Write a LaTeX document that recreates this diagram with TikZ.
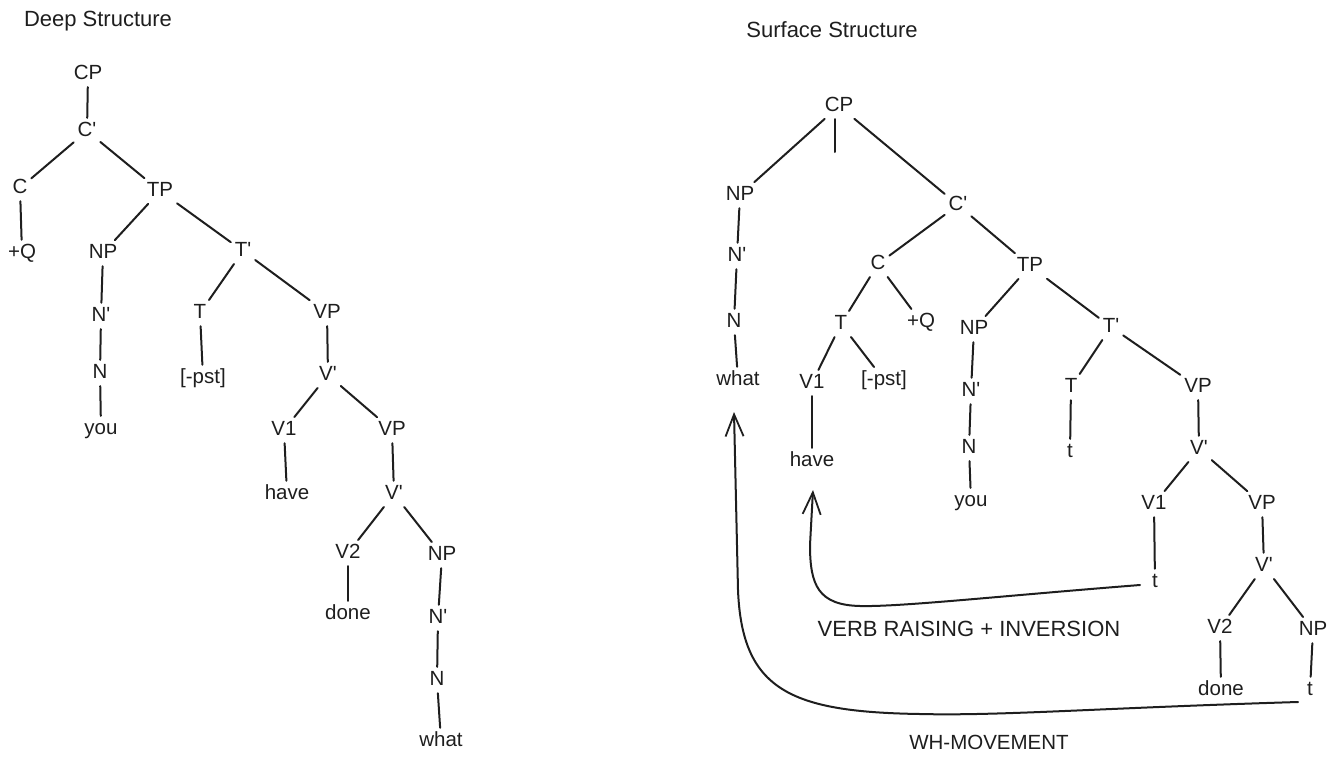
\documentclass[tikz,border=0pt]{standalone}
\usepackage{fontspec}
\setmainfont{Liberation Sans}
\usetikzlibrary{arrows.meta}
\definecolor{ink}{HTML}{1E1E1E}
\begin{document}
\begin{tikzpicture}[x=1pt,y=-1pt,
  lbl/.style={inner sep=3pt, text height=14pt, text depth=4pt, text=ink, font=\fontsize{20.5}{23}\selectfont},
  ttl/.style={inner sep=0pt, text=ink, font=\fontsize{22}{24}\selectfont},
  edge/.style={line width=2pt, draw=ink, line cap=round, shorten <=1pt, shorten >=1pt},
  move/.style={line width=2pt, draw=ink, line cap=round, -{Straight Barb[length=22pt,width=18pt,line width=1.8pt]}}]
\useasboundingbox (0,0) rectangle (1336,766);
\newcommand{\pr}{\textquotesingle}
% ---------- Deep Structure ----------
\node[ttl] (t1) at (98,21) {Deep Structure};
\node[lbl] (lCP) at (88,74) {CP};
\node[lbl] (lC1) at (87,131) {C\pr};
\node[lbl] (lC) at (20,188) {C};
\node[lbl] (lTP) at (160,191) {TP};
\node[lbl] (lQ) at (22,253) {+Q};
\node[lbl] (lNP) at (103,253) {NP};
\node[lbl] (lT1) at (243,251) {T\pr};
\node[lbl] (lN1) at (101,316) {N\pr};
\node[lbl] (lT) at (200,313) {T};
\node[lbl] (lVP) at (327,313) {VP};
\node[lbl] (lN) at (100,373) {N};
\node[lbl] (lpst) at (203,378) {[-pst]};
\node[lbl] (lV1bar) at (328,375) {V\pr};
\node[lbl] (lyou) at (101,429) {you};
\node[lbl] (lV1) at (284,430) {V1};
\node[lbl] (lVP2) at (392,430) {VP};
\node[lbl] (lhave) at (287,494) {have};
\node[lbl] (lV2bar) at (394,494) {V\pr};
\node[lbl] (lV2) at (348,553) {V2};
\node[lbl] (lNP2) at (442,555) {NP};
\node[lbl] (ldone) at (348,614) {done};
\node[lbl] (lN2bar) at (438,618) {N\pr};
\node[lbl] (lN2) at (437,680) {N};
\node[lbl] (lwhat) at (441,741) {what};
\foreach \a/\b in {lCP/lC1, lC1/lC, lC1/lTP, lC/lQ, lTP/lNP, lTP/lT1, lNP/lN1, lN1/lN, lN/lyou,
  lT1/lT, lT1/lVP, lT/lpst, lVP/lV1bar, lV1bar/lV1, lV1bar/lVP2, lV1/lhave, lVP2/lV2bar,
  lV2bar/lV2, lV2bar/lNP2, lV2/ldone, lNP2/lN2bar, lN2bar/lN2, lN2/lwhat}
  \draw[edge] (\a) -- (\b);
% ---------- Surface Structure ----------
\node[ttl] (t2) at (832,30) {Surface Structure};
\node[lbl] (rCP) at (839,106) {CP};
\coordinate (stub) at (835,153);
\node[lbl] (rNP) at (740,195) {NP};
\node[lbl] (rN1) at (737,256) {N\pr};
\node[lbl] (rN) at (734,322) {N};
\node[lbl] (rwhat) at (738,380) {what};
\node[lbl] (rC1) at (958,205) {C\pr};
\node[lbl] (rC) at (878,264) {C};
\node[lbl] (rTP) at (1030,266) {TP};
\node[lbl] (rT) at (841,324) {T};
\node[lbl] (rQ) at (921,322) {+Q};
\node[lbl] (rV1) at (812,383) {V1};
\node[lbl] (rpst) at (884,380) {[-pst]};
\node[lbl] (rhave) at (812,461) {have};
\node[lbl] (rNP2) at (974,329) {NP};
\node[lbl] (rN2bar) at (971,391) {N\pr};
\node[lbl] (rN2) at (969,448) {N};
\node[lbl] (ryou) at (971,501) {you};
\node[lbl] (rT1) at (1111,327) {T\pr};
\node[lbl] (rT2) at (1071,387) {T};
\node[lbl] (rt1) at (1070,452) {t};
\node[lbl] (rVP) at (1198,387) {VP};
\node[lbl] (rV1bar) at (1199,449) {V\pr};
\node[lbl] (rV1b) at (1154,504) {V1};
\node[lbl] (rVP2) at (1262,504) {VP};
\node[lbl] (rtv) at (1155,582) {t};
\node[lbl] (rV2bar) at (1264,566) {V\pr};
\node[lbl] (rV2) at (1220,628) {V2};
\node[lbl] (rNP3) at (1313,630) {NP};
\node[lbl] (rdone) at (1221,690) {done};
\node[lbl] (rtn) at (1310,690) {t};
\draw[edge] (rCP.south -| stub) -- (stub);
\foreach \a/\b in {rCP/rNP, rCP/rC1, rNP/rN1, rN1/rN, rN/rwhat, rC1/rC, rC1/rTP, rC/rT, rC/rQ,
  rT/rV1, rT/rpst, rV1/rhave, rTP/rNP2, rTP/rT1, rNP2/rN2bar, rN2bar/rN2, rN2/ryou,
  rT1/rT2, rT1/rVP, rT2/rt1, rVP/rV1bar, rV1bar/rV1b, rV1bar/rVP2, rV1b/rtv, rVP2/rV2bar,
  rV2bar/rV2, rV2bar/rNP3, rV2/rdone, rNP3/rtn}
  \draw[edge] (\a) -- (\b);
% ---------- movement arrows ----------
\coordinate (vrS) at (1140,585);
\coordinate (vrE) at (813,490);
\coordinate (whS) at (1298,702);
\coordinate (whE) at (734,412);
\draw[move] (vrS) .. controls (1000,596) and (900,607) .. (860,606)
  .. controls (818,605) and (810,585) .. (810,545) -- (vrE);
\draw[move] (whS) .. controls (1100,708) and (1000,716) .. (920,714)
  .. controls (790,712) and (742,690) .. (738,590) -- (whE);
\node[ttl] (vr) at (969,629) {VERB RAISING + INVERSION};
\node[lbl, inner sep=0pt] (wh) at (989,744) {WH-MOVEMENT};
\end{tikzpicture}
\end{document}
